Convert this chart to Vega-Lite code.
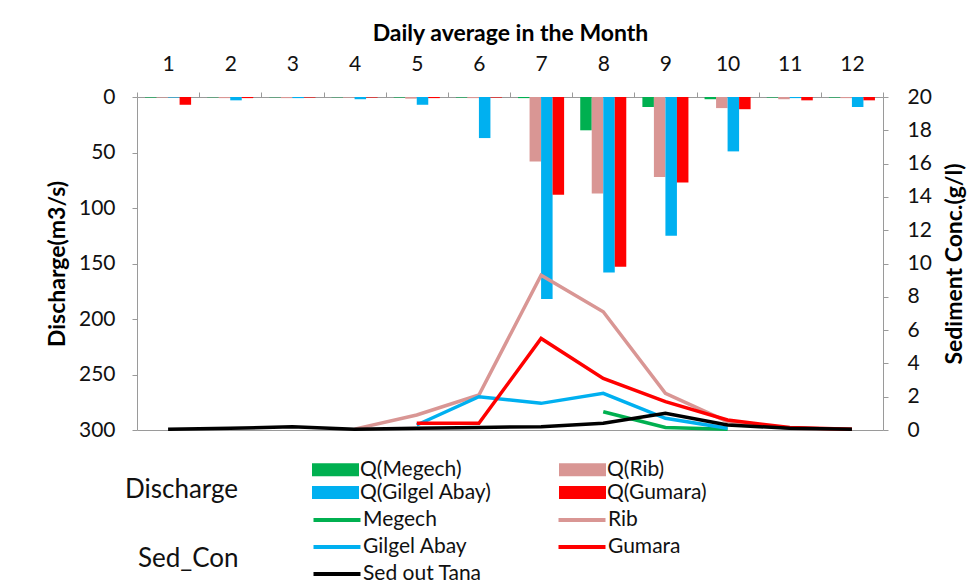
{
  "$schema": "https://vega.github.io/schema/vega-lite/v6.json",
  "width": 746,
  "height": 333,
  "autosize": {"type": "none"},
  "padding": {"left": 137, "top": 97, "right": 85, "bottom": 155},
  "background": "white",
  "config": {
    "font": "Lato",
    "view": {"stroke": null},
    "axis": {
      "labelFont": "Lato", "titleFont": "Lato", "labelColor": "#111", "titleColor": "#000",
      "domainColor": "#9a9a9a", "tickColor": "#9a9a9a", "grid": false,
      "labelFontSize": 21, "titleFontSize": 23, "titleFontWeight": "bold"
    },
    "legend": {"labelFont": "Lato", "titleFont": "Lato", "labelColor": "#111", "titleColor": "#111"}
  },
  "datasets": {
    "discharge": [
      {"month": 1, "series": "Q(Megech)", "q": 0.5}, {"month": 1, "series": "Q(Rib)", "q": 0.5}, {"month": 1, "series": "Q(Gilgel Abay)", "q": 0.5}, {"month": 1, "series": "Q(Gumara)", "q": 7},
      {"month": 2, "series": "Q(Megech)", "q": 0.3}, {"month": 2, "series": "Q(Rib)", "q": 1}, {"month": 2, "series": "Q(Gilgel Abay)", "q": 3}, {"month": 2, "series": "Q(Gumara)", "q": 1},
      {"month": 3, "series": "Q(Megech)", "q": 0.3}, {"month": 3, "series": "Q(Rib)", "q": 1}, {"month": 3, "series": "Q(Gilgel Abay)", "q": 1}, {"month": 3, "series": "Q(Gumara)", "q": 0.5},
      {"month": 4, "series": "Q(Megech)", "q": 0.3}, {"month": 4, "series": "Q(Rib)", "q": 0.5}, {"month": 4, "series": "Q(Gilgel Abay)", "q": 2}, {"month": 4, "series": "Q(Gumara)", "q": 0.5},
      {"month": 5, "series": "Q(Megech)", "q": 0.5}, {"month": 5, "series": "Q(Rib)", "q": 1.5}, {"month": 5, "series": "Q(Gilgel Abay)", "q": 7}, {"month": 5, "series": "Q(Gumara)", "q": 1},
      {"month": 6, "series": "Q(Megech)", "q": 0.5}, {"month": 6, "series": "Q(Rib)", "q": 1}, {"month": 6, "series": "Q(Gilgel Abay)", "q": 37}, {"month": 6, "series": "Q(Gumara)", "q": 0.5},
      {"month": 7, "series": "Q(Megech)", "q": 1}, {"month": 7, "series": "Q(Rib)", "q": 58}, {"month": 7, "series": "Q(Gilgel Abay)", "q": 182}, {"month": 7, "series": "Q(Gumara)", "q": 88},
      {"month": 8, "series": "Q(Megech)", "q": 30}, {"month": 8, "series": "Q(Rib)", "q": 87}, {"month": 8, "series": "Q(Gilgel Abay)", "q": 158}, {"month": 8, "series": "Q(Gumara)", "q": 153},
      {"month": 9, "series": "Q(Megech)", "q": 9}, {"month": 9, "series": "Q(Rib)", "q": 72}, {"month": 9, "series": "Q(Gilgel Abay)", "q": 125}, {"month": 9, "series": "Q(Gumara)", "q": 77},
      {"month": 10, "series": "Q(Megech)", "q": 2}, {"month": 10, "series": "Q(Rib)", "q": 10}, {"month": 10, "series": "Q(Gilgel Abay)", "q": 49}, {"month": 10, "series": "Q(Gumara)", "q": 11},
      {"month": 11, "series": "Q(Megech)", "q": 0.5}, {"month": 11, "series": "Q(Rib)", "q": 2}, {"month": 11, "series": "Q(Gilgel Abay)", "q": 1}, {"month": 11, "series": "Q(Gumara)", "q": 3},
      {"month": 12, "series": "Q(Megech)", "q": 0.5}, {"month": 12, "series": "Q(Rib)", "q": 1}, {"month": 12, "series": "Q(Gilgel Abay)", "q": 9}, {"month": 12, "series": "Q(Gumara)", "q": 3}
    ],
    "sed": [
      {"month": 8, "series": "Megech", "c": 1.1}, {"month": 9, "series": "Megech", "c": 0.15}, {"month": 10, "series": "Megech", "c": 0.05},
      {"month": 4, "series": "Rib", "c": 0.05}, {"month": 5, "series": "Rib", "c": 0.9}, {"month": 6, "series": "Rib", "c": 2.1}, {"month": 7, "series": "Rib", "c": 9.3}, {"month": 8, "series": "Rib", "c": 7.1}, {"month": 9, "series": "Rib", "c": 2.2}, {"month": 10, "series": "Rib", "c": 0.5}, {"month": 11, "series": "Rib", "c": 0.1}, {"month": 12, "series": "Rib", "c": 0.05},
      {"month": 5, "series": "Gilgel Abay", "c": 0.3}, {"month": 6, "series": "Gilgel Abay", "c": 2.0}, {"month": 7, "series": "Gilgel Abay", "c": 1.6}, {"month": 8, "series": "Gilgel Abay", "c": 2.2}, {"month": 9, "series": "Gilgel Abay", "c": 0.7}, {"month": 10, "series": "Gilgel Abay", "c": 0.1},
      {"month": 5, "series": "Gumara", "c": 0.4}, {"month": 6, "series": "Gumara", "c": 0.4}, {"month": 7, "series": "Gumara", "c": 5.5}, {"month": 8, "series": "Gumara", "c": 3.1}, {"month": 9, "series": "Gumara", "c": 1.7}, {"month": 10, "series": "Gumara", "c": 0.6}, {"month": 11, "series": "Gumara", "c": 0.15}, {"month": 12, "series": "Gumara", "c": 0.05},
      {"month": 1, "series": "Sed out Tana", "c": 0.05}, {"month": 2, "series": "Sed out Tana", "c": 0.1}, {"month": 3, "series": "Sed out Tana", "c": 0.2}, {"month": 4, "series": "Sed out Tana", "c": 0.05}, {"month": 5, "series": "Sed out Tana", "c": 0.1}, {"month": 6, "series": "Sed out Tana", "c": 0.15}, {"month": 7, "series": "Sed out Tana", "c": 0.2}, {"month": 8, "series": "Sed out Tana", "c": 0.4}, {"month": 9, "series": "Sed out Tana", "c": 1.0}, {"month": 10, "series": "Sed out Tana", "c": 0.3}, {"month": 11, "series": "Sed out Tana", "c": 0.1}, {"month": 12, "series": "Sed out Tana", "c": 0.05}
    ]
  },
  "layer": [
    {
      "data": {"name": "discharge"},
      "mark": {"type": "bar"},
      "encoding": {
        "x": {
          "field": "month", "type": "ordinal",
          "scale": {"paddingInner": 0, "paddingOuter": 0},
          "axis": {"orient": "top", "title": "Daily average in the Month", "labelAngle": 0, "tickBand": "extent", "tickSize": 5, "labelPadding": 18, "titlePadding": 8}
        },
        "xOffset": {
          "field": "series", "type": "nominal",
          "scale": {"domain": ["Q(Megech)", "Q(Rib)", "Q(Gilgel Abay)", "Q(Gumara)"], "paddingInner": 0, "paddingOuter": 0.7}
        },
        "y": {
          "field": "q", "type": "quantitative",
          "scale": {"domain": [0, 300], "reverse": true, "nice": false},
          "axis": {"orient": "left", "title": "Discharge(m3/s)", "values": [0, 50, 100, 150, 200, 250, 300], "tickSize": 5, "labelPadding": 17, "titlePadding": 9}
        },
        "fill": {
          "field": "series", "type": "nominal",
          "scale": {"domain": ["Q(Megech)", "Q(Rib)", "Q(Gilgel Abay)", "Q(Gumara)"], "range": ["#00B050", "#D99694", "#00B0F0", "#FF0000"]},
          "legend": {
            "title": "Discharge", "orient": "none", "legendX": -12, "legendY": 362, "direction": "horizontal",
            "columns": 2, "titleOrient": "left", "titleAnchor": "end", "titleFontWeight": "normal", "titleFontSize": 26,
            "titlePadding": 86, "labelFontSize": 21, "symbolType": "M-2.35,-0.65H2.35V0.65H-2.35Z", "symbolSize": 400,
            "symbolStrokeWidth": 0, "columnPadding": 67, "rowPadding": 1, "labelOffset": 14, "padding": 0
          }
        }
      }
    },
    {
      "data": {"name": "sed"},
      "mark": {"type": "line", "strokeWidth": 3.5},
      "encoding": {
        "x": {
          "field": "month", "type": "ordinal",
          "axis": {"orient": "bottom", "labels": false, "ticks": false, "title": null}
        },
        "y": {
          "field": "c", "type": "quantitative",
          "scale": {"domain": [0, 20], "nice": false},
          "axis": {"orient": "right", "title": "Sediment Conc.(g/l)", "titleAngle": -90, "titleBaseline": "top", "values": [0, 2, 4, 6, 8, 10, 12, 14, 16, 18, 20], "tickSize": 5, "labelPadding": 19, "titlePadding": 12}
        },
        "stroke": {
          "field": "series", "type": "nominal",
          "scale": {"domain": ["Megech", "Rib", "Gilgel Abay", "Gumara", "Sed out Tana"], "range": ["#00B050", "#D99694", "#00B0F0", "#FF0000", "#000000"]},
          "legend": {
            "title": "Sed_Con", "orient": "none", "legendX": 1, "legendY": 411, "direction": "horizontal",
            "columns": 2, "titleOrient": "left", "titleAnchor": "middle", "titleBaseline": "top", "titleFontWeight": "normal", "titleFontSize": 26,
            "titlePadding": 86, "labelFontSize": 21, "symbolType": "M-2.35,0H2.35", "symbolSize": 400,
            "symbolStrokeWidth": 4, "columnPadding": 68, "rowPadding": 5, "labelOffset": 14, "padding": 0
          }
        }
      }
    }
  ],
  "resolve": {
    "scale": {"y": "independent", "fill": "independent", "stroke": "independent"},
    "axis": {"x": "independent"}
  }
}
